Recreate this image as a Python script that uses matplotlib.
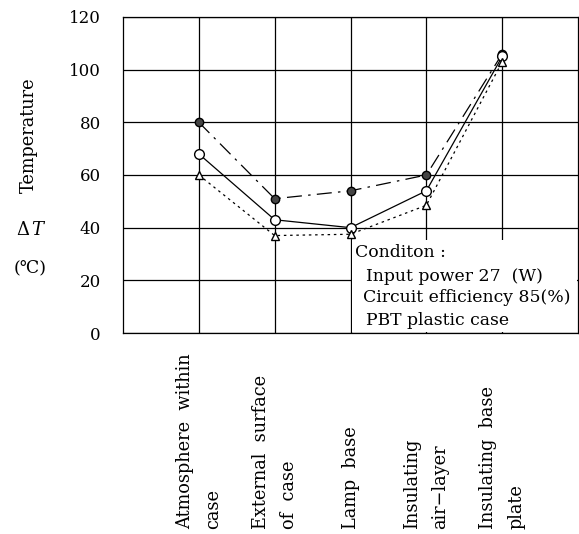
import numpy as np
import matplotlib
matplotlib.use("Agg")
import matplotlib.pyplot as plt
from matplotlib.patches import Rectangle

plt.rcParams['font.family'] = ['DejaVu Serif', 'DejaVu Sans']
plt.rcParams['mathtext.fontset'] = 'dejavuserif'

# categories along the x axis
categories = ["Atmosphere  within\ncase",
              "External  surface\nof  case",
              "Lamp  base",
              "Insulating\nair\u2212layer",
              "Insulating  base\nplate"]
# temperature rise (deg C)
dark_circle = [80, 51, 54, 60, 106]
open_circle = [68, 43, 40, 54, 105]
open_triangle = [60, 37, 37.5, 48.5, 103]
y_ticks = [0, 20, 40, 60, 80, 100, 120]
condition_lines = ["Conditon :",
                   "Input power 27  (W)",
                   "Circuit efficiency 85(%)",
                   "PBT plastic case"]
condition_indent = [3.06, 3.21, 3.16, 3.21]

fig = plt.figure(figsize=(5.79, 5.34), dpi=100)
ax = fig.add_axes([0.2124, 0.3764, 0.786, 0.5918])

x = np.arange(1, len(categories) + 1)

ax.set_xlim(0, 6)
ax.set_ylim(0, 120)
ax.set_xticks(np.arange(1, 6))
ax.set_xticklabels([])
ax.set_yticks(y_ticks)
ax.set_yticklabels([str(v) for v in y_ticks], fontsize=12)
ax.tick_params(length=0, pad=16)
ax.grid(True, color="black", lw=0.9, zorder=1)
ax.set_axisbelow(True)
for s in ax.spines.values():
    s.set_color("black")
    s.set_linewidth(0.9)

# white box for the conditions text (covers the grid)
ax.add_patch(Rectangle((3.02, 0.3), 2.96, 35, facecolor="white",
                       edgecolor="none", zorder=2))

ax.plot(x, dark_circle, color="black", lw=0.9, dashes=(12, 5, 2, 5),
        marker="o", ms=6, mfc="#444444", mec="black", zorder=4)
ax.plot(x, open_circle, color="black", lw=0.9, ls="-",
        marker="o", ms=7, mfc="white", mec="black", zorder=4)
ax.plot(x, open_triangle, color="black", lw=0.9, dashes=(2, 3),
        marker="^", ms=6, mfc="white", mec="black", zorder=4)

ty = [30.4, 21.6, 13.3, 4.8]
for xi, yi, line in zip(condition_indent, ty, condition_lines):
    ax.text(xi, yi, line, fontsize=12.4, va="center",
            ha="left", zorder=5)

# rotated category labels below the axis
for xi, lab in zip(x, categories):
    ax.text(xi, -74.5, lab, rotation=90, ha="center", va="bottom",
            multialignment="left", fontsize=12.8, linespacing=1.7)

# y axis label pieces
fig.text(29 / 579, 1 - 135 / 534, "Temperature", rotation=90,
         ha="center", va="center", fontsize=12.8)
fig.text(31 / 579, 1 - 230 / 534, r"$\Delta\,T$", ha="center",
         va="center", fontsize=13)
fig.text(30 / 579, 1 - 268 / 534, "(\u2103)", ha="center", va="center",
         fontsize=12.5)

fig.savefig("out.png", dpi=100, facecolor="white")
